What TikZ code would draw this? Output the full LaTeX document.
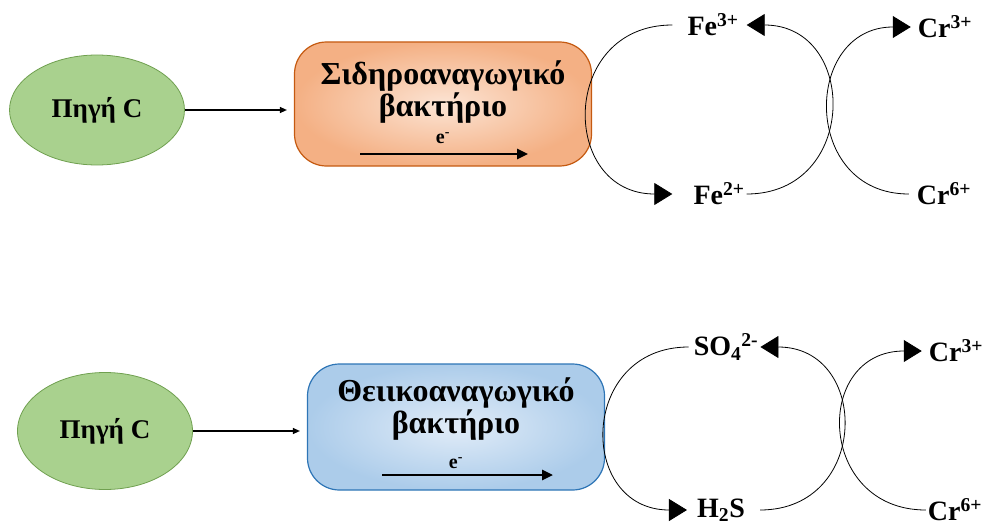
\documentclass[tikz,border=0pt]{standalone}
\usepackage{fontspec}
\setmainfont{Liberation Serif}
\usetikzlibrary{arrows.meta,shapes.geometric}

\definecolor{srcfill}{RGB}{169,209,142}
\definecolor{srcline}{RGB}{112,160,80}
\definecolor{ironin}{RGB}{252,228,212}
\definecolor{ironout}{RGB}{244,176,132}
\definecolor{ironline}{RGB}{197,90,17}
\definecolor{sulfin}{RGB}{225,236,248}
\definecolor{sulfout}{RGB}{172,204,234}
\definecolor{sulfline}{RGB}{46,117,182}

\tikzset{
  src/.style={ellipse, draw=srcline, fill=srcfill, line width=0.8pt,
    minimum width=175pt, minimum height=110pt,
    font=\bfseries\fontsize{27}{30}\selectfont},
  bact/.style={rounded corners=32pt, line width=1.2pt,
    minimum width=297pt, minimum height=124pt},
  iron/.style={bact, draw=ironline, inner color=ironin, outer color=ironout},
  sulf/.style={bact, draw=sulfline, inner color=sulfin, outer color=sulfout},
  bname/.style={align=center, inner sep=0pt, font=\bfseries\fontsize{32}{32}\selectfont},
  elec/.style={inner sep=0pt, font=\bfseries\fontsize{20}{24}\selectfont},
  ion/.style={inner sep=2pt, font=\bfseries\fontsize{28}{30}\selectfont},
  feed/.style={-{Triangle[length=7pt,width=6pt]}, line width=1.2pt, shorten >=7pt},
  flow/.style={-{Triangle[length=11pt,width=10pt]}, line width=2.6pt},
  cyc/.style={line width=0.8pt, -{Triangle[length=18pt,width=22pt]}},
}

\begin{document}
\begin{tikzpicture}[x=1pt,y=-1pt]
  \useasboundingbox (0,0) rectangle (984,527);
  % iron reducing
  \node[src] (src1) at (97,110) {Πηγή C};
  \node[iron] (bact1) at (443,104) {};
  \node[bname] (nam1) at (443,92) {Σιδηροαναγωγικό\\βακτήριο};
  \node[elec, below of=nam1, node distance=46pt] (e1) {e\textsuperscript{-}};
  \coordinate (f1a) at (360,154);
  \coordinate (f1b) at (528,154);
  \node[ion] (fe3) at (713,25) {Fe\textsuperscript{3+}};
  \node[ion] (fe2) at (719,194) {Fe\textsuperscript{2+}};
  \node[ion] (cr3a) at (945,27) {Cr\textsuperscript{3+}};
  \node[ion] (cr6a) at (944,194) {Cr\textsuperscript{6+}};
  % sulfate reducing
  \node[src, minimum height=117pt] (src2) at (105,431) {Πηγή C};
  \node[sulf, minimum height=126pt] (bact2) at (456,427) {};
  \node[bname] (nam2) at (456,409) {Θειικοαναγωγικό\\βακτήριο};
  \node[elec, below of=nam2, node distance=54pt] (e2) {e\textsuperscript{-}};
  \coordinate (f2a) at (382,475);
  \coordinate (f2b) at (553,475);
  \node[ion] (so4) at (726,347) {SO\textsubscript{4}\textsuperscript{2-}};
  \node[ion] (h2s) at (721,510) {H\textsubscript{2}S};
  \node[ion] (cr3b) at (956,351) {Cr\textsuperscript{3+}};
  \node[ion] (cr6b) at (955,510) {Cr\textsuperscript{6+}};

  \path (src1.east) edge[feed] (src1.east -| bact1.west)
        (src2.east) edge[feed] (src2.east -| bact2.west);
  \draw[flow] (f1a) -- (f1b);
  \draw[flow] (f2a) -- (f2b);

  \draw[cyc] ([xshift=-13pt]fe3.west) to[out=180,in=180,distance=113pt] ([xshift=-19pt]fe2.west);
  \draw[cyc] (fe2.east) to[out=0,in=0,distance=112pt] ([xshift=6pt]fe3.east);
  \draw[cyc] ([xshift=-6pt]cr6a.west) to[out=180,in=180,distance=108pt] ([xshift=-5pt]cr3a.west);
  \draw[cyc] ([xshift=-3pt]so4.west) to[out=180,in=180,distance=110pt] ([xshift=-8pt]h2s.west);
  \draw[cyc] ([xshift=13pt]h2s.east) to[out=0,in=0,distance=110pt] (so4.east);
  \draw[cyc] (cr6b.west) to[out=180,in=180,distance=109pt] ([xshift=-5pt]cr3b.west);
\end{tikzpicture}
\end{document}
